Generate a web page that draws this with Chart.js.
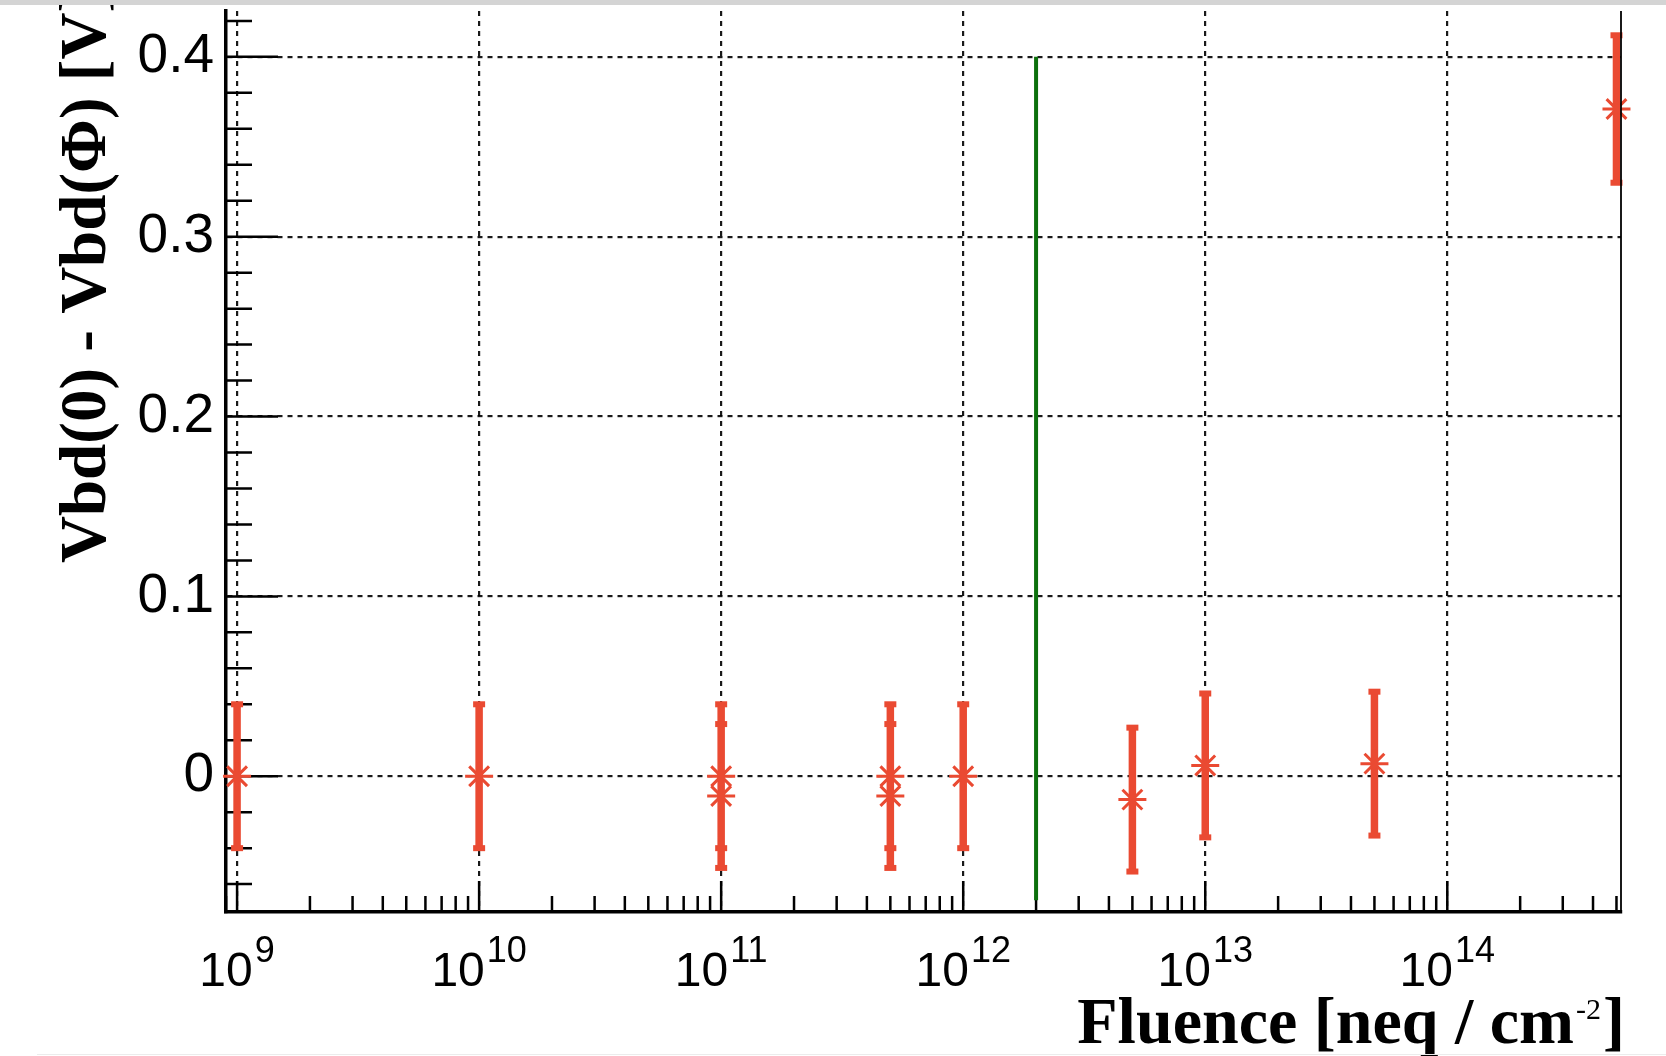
<!DOCTYPE html>
<html>
<head>
<meta charset="utf-8">
<title>Vbd shift vs fluence</title>
<script src="https://cdn.jsdelivr.net/npm/chart.js@4.4.1/dist/chart.umd.min.js"></script>
<style>
    html, body { margin: 0; padding: 0; background: #fff; }
    #wrap { position: relative; width: 1666px; height: 1056px; overflow: hidden; }
    #fluence-chart { position: absolute; left: 0; top: 0; }
    #top-bar { position: absolute; left: 0; top: 0; width: 1666px; height: 5px; background: #d4d4d4; }
    #bottom-line { position: absolute; left: 37px; top: 1054px; width: 1629px; height: 1px; background: #ececec; }
</style>
</head>
<body>
<div id="wrap">
    <canvas id="fluence-chart" width="1666" height="1056"></canvas>
    <div id="top-bar"></div>
    <div id="bottom-line"></div>
</div>
<script>
// Vbd shift vs fluence

let fluence = [1e9, 1e10, 1e11, 1e11, 5e11, 5e11, 1e12, 5e12, 1e13, 5e13, 5e14];
let vbdShift = [0, 0, 0, -0.011, 0, -0.011, 0, -0.013, 0.006, 0.007, 0.371];
let vbdError = [0.04, 0.04, 0.04, 0.04, 0.04, 0.04, 0.04, 0.04, 0.04, 0.04, 0.041];
let cutFluence = 2e12;
let cutRange = [-0.069, 0.4];
let yTickValues = [0, 0.1, 0.2, 0.3, 0.4];
let xTickExponents = [9, 10, 11, 12, 13, 14];
let xLimits = [9e8, 5.22e14];
let yLimits = [-0.0755, 0.4255];

let yTitle = 'Vbd(0) - Vbd(Φ) [V]';
let xTitle = 'Fluence [neq / cm';
let xTitleSup = '-2';
let xTitleEnd = ']';

let redColor = 'rgb(234, 74, 50)';
let greenColor = 'rgb(12, 112, 12)';
let gridColor = 'rgba(0, 0, 0, 0.9)';

// error bars as broken line segments, caps are the end points
let errorBars = [];
for (let i = 0; i < fluence.length; i++) {
    errorBars.push({ x: fluence[i], y: vbdShift[i] - vbdError[i] });
    errorBars.push({ x: fluence[i], y: vbdShift[i] + vbdError[i] });
    errorBars.push({ x: fluence[i], y: null });
}
let points = fluence.map((x, i) => ({ x: x, y: vbdShift[i] }));
let cutLine = cutRange.map(y => ({ x: cutFluence, y: y }));

// ROOT style inner ticks, frame and texts
const rootAxes = {
    id: 'rootAxes',
    beforeDatasetsDraw(chart) {
        const ctx = chart.ctx;
        const area = chart.chartArea;
        const xs = chart.scales.x;
        const ys = chart.scales.y;
        ctx.save();
        ctx.strokeStyle = '#000';
        ctx.lineWidth = 2.5;
        ctx.beginPath();
        for (let n = -3; n <= 21; n++) {
            let v = n * 0.02;
            if (v < yLimits[0] || v > yLimits[1]) continue;
            let py = ys.getPixelForValue(v);
            let len = (n % 5 === 0) ? 52 : 26;
            ctx.moveTo(area.left, py);
            ctx.lineTo(area.left + len, py);
        }
        for (let e = 8; e <= 14; e++) {
            for (let k = 1; k <= 9; k++) {
                let v = k * Math.pow(10, e);
                if (v < xLimits[0] || v > xLimits[1]) continue;
                let px = xs.getPixelForValue(v);
                let len = (k === 1) ? 31 : 16;
                ctx.moveTo(px, area.bottom);
                ctx.lineTo(px, area.bottom - len);
            }
        }
        ctx.stroke();
        ctx.restore();
    },
    afterDatasetsDraw(chart) {
        const ctx = chart.ctx;
        const area = chart.chartArea;
        ctx.save();
        ctx.strokeStyle = '#000';
        ctx.lineWidth = 1.8;
        ctx.beginPath();
        ctx.moveTo(area.right, area.top);
        ctx.lineTo(area.right, area.bottom);
        ctx.stroke();
        ctx.restore();
    },
    afterDraw(chart) {
        const ctx = chart.ctx;
        const area = chart.chartArea;
        const xs = chart.scales.x;
        ctx.save();
        ctx.fillStyle = '#000';
        ctx.textBaseline = 'alphabetic';
        ctx.textAlign = 'left';

        // 10^n tick labels
        xTickExponents.forEach(e => {
            let px = xs.getPixelForValue(Math.pow(10, e));
            ctx.font = '48px "Liberation Sans"';
            let wBase = ctx.measureText('10').width;
            ctx.font = '36px "Liberation Sans"';
            let wExp = ctx.measureText(String(e)).width;
            let left = px - (wBase + wExp + 2) / 2;
            ctx.font = '48px "Liberation Sans"';
            ctx.fillText('10', left, area.bottom + 74);
            ctx.font = '36px "Liberation Sans"';
            ctx.fillText(String(e), left + wBase + 2, area.bottom + 50);
        });

        // x title, right aligned with a superscript
        let right = area.right + 4;
        let base = area.bottom + 131;
        ctx.textAlign = 'right';
        ctx.font = 'bold 66px "Liberation Serif"';
        ctx.fillText(xTitleEnd, right, base);
        let wEnd = ctx.measureText(xTitleEnd).width;
        ctx.font = '30px "Liberation Serif"';
        ctx.fillText(xTitleSup, right - wEnd - 2, base - 24);
        let wSup = ctx.measureText(xTitleSup).width;
        ctx.font = 'bold 66px "Liberation Serif"';
        ctx.fillText(xTitle, right - wEnd - wSup - 4, base);

        // y title, rotated, runs off the top
        ctx.translate(105, area.bottom - 349);
        ctx.rotate(-Math.PI / 2);
        ctx.textAlign = 'left';
        ctx.font = 'bold 65px "Liberation Serif"';
        ctx.fillText(yTitle, 0, 0);
        ctx.restore();
    }
};

const fluenceChart = new Chart(document.getElementById('fluence-chart').getContext('2d'), {
    type: 'scatter',
    data: {
        datasets: [{
            label: 'Vbd shift',
            data: points,
            showLine: false,
            pointStyle: 'star',
            pointRadius: 14,
            pointHoverRadius: 14,
            borderColor: redColor,
            backgroundColor: redColor,
            pointBorderWidth: 3,
            clip: false
        },
        {
            label: 'errors',
            data: errorBars,
            showLine: true,
            spanGaps: false,
            borderColor: redColor,
            borderWidth: 7.5,
            pointStyle: 'line',
            pointRadius: 6,
            pointHoverRadius: 6,
            pointBorderWidth: 6,
            pointBorderColor: redColor,
            clip: false
        },
        {
            label: 'cut',
            data: cutLine,
            showLine: true,
            borderColor: greenColor,
            borderWidth: 4,
            pointRadius: 0,
            pointHoverRadius: 0,
            clip: false
        }]
    },
    options: {
        responsive: false,
        animation: false,
        devicePixelRatio: 1,
        events: [],
        layout: {
            autoPadding: false,
            padding: { top: 11, right: 45, bottom: 0, left: 0 }
        },
        scales: {
            x: {
                type: 'logarithmic',
                min: xLimits[0],
                max: xLimits[1],
                afterBuildTicks: scale => {
                    scale.ticks = xTickExponents.map(e => ({ value: Math.pow(10, e) }));
                },
                afterFit: scale => {
                    scale.height = 144;
                    scale.paddingLeft = 0;
                    scale.paddingRight = 0;
                },
                ticks: { display: false },
                grid: { color: gridColor, lineWidth: 2.2, drawTicks: false },
                border: { display: true, color: '#000', width: 3.5, dash: [5, 5] }
            },
            y: {
                type: 'linear',
                min: yLimits[0],
                max: yLimits[1],
                afterBuildTicks: scale => {
                    scale.ticks = yTickValues.map(v => ({ value: v }));
                },
                afterFit: scale => {
                    scale.width = 226;
                    scale.paddingTop = 0;
                    scale.paddingBottom = 0;
                },
                ticks: {
                    color: '#000',
                    padding: 12,
                    font: { family: 'Liberation Sans', size: 55 },
                    callback: v => String(Math.round(v * 10) / 10)
                },
                grid: { color: gridColor, lineWidth: 2.2, drawTicks: false },
                border: { display: true, color: '#000', width: 3.5, dash: [5, 5] }
            }
        },
        plugins: {
            legend: { display: false },
            tooltip: { enabled: false }
        }
    },
    plugins: [rootAxes]
});
</script>
</body>
</html>
